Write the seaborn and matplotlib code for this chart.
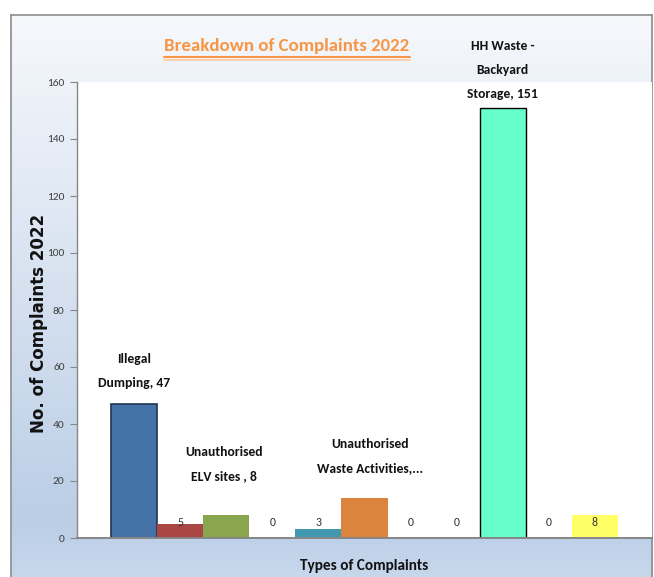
"""
Breakdown of complaints 2022 - bar chart recreated with seaborn.
"""

import matplotlib
matplotlib.use("Agg")

import matplotlib.pyplot as plt
import numpy as np
import seaborn as sns
from matplotlib.lines import Line2D


# Data
complaint_types = [
    "Illegal Dumping",
    "Type 2",
    "Unauthorised ELV sites",
    "Type 4",
    "Type 5",
    "Unauthorised Waste Activities",
    "Type 7",
    "Type 8",
    "HH Waste - Backyard Storage",
    "Type 10",
    "Type 11",
]
complaint_counts = [47, 5, 8, 0, 3, 14, 0, 0, 151, 0, 8]
bar_labels = [
    "Illegal\nDumping, 47",
    "5",
    "Unauthorised\nELV sites , 8",
    "0",
    "3",
    "Unauthorised\nWaste Activities,...",
    "0",
    "0",
    "HH Waste -\nBackyard\nStorage, 151",
    "0",
    "8",
]
bar_colors = [
    "#4572a7", "#aa4643", "#89a54e", "#80699b", "#4198af", "#db843d",
    "#92a8cd", "#a47d7c", "#66ffcc", "#a9c0e4", "#ffff66",
]
y_ticks = [0, 20, 40, 60, 80, 100, 120, 140, 160]

# Styling
sns.set_style("white")
plt.rcParams["font.family"] = ["Carlito", "DejaVu Sans"]

W, H = 654, 577
fig = plt.figure(figsize=(W / 100, H / 100), dpi=100)
fig.patch.set_facecolor("white")

# Gradient background frame
bg = fig.add_axes([11 / W, 0, 641 / W, 562 / H], zorder=0)
top = np.array([0.965, 0.973, 0.988])
mid = np.array([0.733, 0.808, 0.902])
bot = np.array([0.780, 0.843, 0.925])
t = np.linspace(0, 1, 256)[:, None]
grad = np.where(t < 0.9, top + (mid - top) * (t / 0.9), mid + (bot - mid) * ((t - 0.9) / 0.1))
bg.imshow(grad[:, None, :].repeat(2, axis=1), aspect="auto", extent=[0, 1, 0, 1])
bg.set_xticks([])
bg.set_yticks([])
for side in ["left", "top", "right"]:
    bg.spines[side].set_color("#8c8c8c")
    bg.spines[side].set_linewidth(1.2)
bg.spines["bottom"].set_visible(False)

# Main chart
ax = fig.add_axes([77 / W, 39 / H, 575 / W, 456 / H], zorder=1)
ax.set_facecolor("white")
sns.barplot(
    x=complaint_types,
    y=complaint_counts,
    hue=complaint_types,
    palette=bar_colors,
    saturation=1,
    width=1,
    legend=False,
    ax=ax,
)

for container, name in zip(ax.containers, complaint_types):
    for bar in container:
        if name == "Illegal Dumping":
            bar.set_edgecolor("#1f3550")
            bar.set_linewidth(1.2)
        elif name.startswith("HH Waste"):
            bar.set_edgecolor("black")
            bar.set_linewidth(1.0)
        else:
            bar.set_linewidth(0)

ax.set_xlim(-1.24, len(complaint_types) - 1 + 1.24)
ax.set_ylim(0, 160)
ax.set_yticks(y_ticks)
ax.set_yticklabels([str(v) for v in y_ticks], fontsize=8.2, color="#404040")
ax.set_xticks([])
ax.set_xlabel("")
ax.set_ylabel("")
ax.tick_params(axis="y", direction="out", length=5, width=0.8, color="#868686", pad=4, left=True)
for side in ["top", "right"]:
    ax.spines[side].set_visible(False)
ax.spines["left"].set_color("#868686")
ax.spines["bottom"].set_color("#868686")
ax.spines["left"].set_linewidth(1.0)
ax.spines["bottom"].set_linewidth(1.4)

# Data labels (offsets in pixels from the bar top)
label_offsets = {0: (0, 15), 2: (-2, 33), 5: (6, 24), 8: (0, 8)}
for i, (value, text) in enumerate(zip(complaint_counts, bar_labels)):
    if i in label_offsets:
        dx, dy = label_offsets[i]
        ax.annotate(
            text, xy=(i, value), xytext=(dx, dy), textcoords="offset pixels",
            ha="center", va="bottom", fontsize=9.8, fontweight="bold",
            color="#111111", linespacing=2.2,
        )
    else:
        ax.annotate(
            text, xy=(i, 0), xytext=(0, 16), textcoords="offset pixels",
            ha="center", va="center", fontsize=8.5, color="#333333",
        )

# Titles
title = fig.text(
    287 / W, 1 - 46 / H, "Breakdown of Complaints 2022",
    ha="center", va="center", fontsize=13.6, fontweight="bold", color="#f79646",
)
fig.text(
    39 / W, 1 - 323 / H, "No. of Complaints 2022",
    ha="center", va="center", rotation=90, fontsize=12, fontweight="bold",
    family="DejaVu Sans", color="#111111",
)
fig.text(
    364 / W, 1 - 566 / H, "Types of Complaints",
    ha="center", va="center", fontsize=11, fontweight="bold", color="#111111",
)

# Underline for the title
fig.canvas.draw()
bb = title.get_window_extent(fig.canvas.get_renderer())
uy = (H - 57) / H
fig.add_artist(Line2D([bb.x0 / W, bb.x1 / W], [uy, uy], color="#f79646", linewidth=1.5))
fig.add_artist(Line2D([bb.x0 / W, bb.x1 / W], [uy - 2.5 / H, uy - 2.5 / H], color="#fbc9a0", linewidth=1.2))

fig.savefig("out.png", dpi=100, facecolor="white")
